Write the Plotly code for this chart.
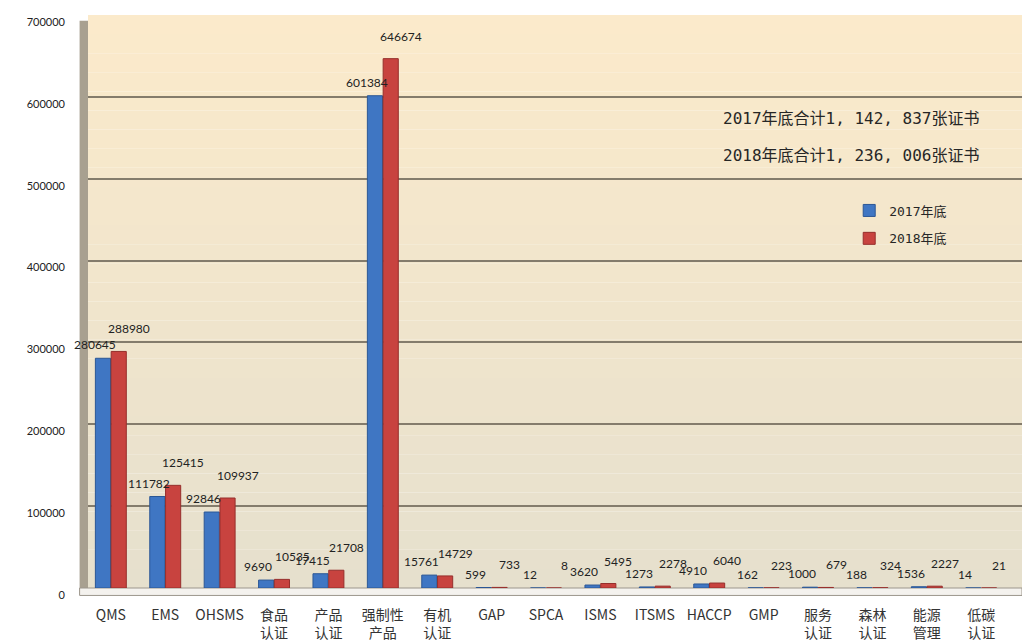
import plotly.graph_objects as go

categories = ["QMS", "EMS", "OHSMS", "食品<br>认证", "产品<br>认证", "强制性<br>产品", "有机<br>认证",
              "GAP", "SPCA", "ISMS", "ITSMS", "HACCP", "GMP", "服务<br>认证", "森林<br>认证",
              "能源<br>管理", "低碳<br>认证"]
values_2017 = [280645, 111782, 92846, 9690, 17415, 601384, 15761, 599, 12, 3620, 1273, 4910,
               162, 1000, 188, 1536, 14]
values_2018 = [288980, 125415, 109937, 10535, 21708, 646674, 14729, 733, 8, 5495, 2278, 6040,
               223, 679, 324, 2227, 21]
series_names = ["2017年底", "2018年底"]
total_notes = ["2017年底合计1, 142, 837张证书", "2018年底合计1, 236, 006张证书"]
y_ticks = [0, 100000, 200000, 300000, 400000, 500000, 600000, 700000]

BLUE = "#3F76C3"
RED = "#C8433F"
LABEL_FONT = dict(family="Lato, 'Noto Sans CJK SC', sans-serif", size=12, color="#222222")
CJK = "'Noto Sans CJK SC', 'Noto Sans', sans-serif"
MONO_CJK = "'DejaVu Sans Mono', 'Noto Sans CJK SC', monospace"

fig = go.Figure()
fig.add_trace(go.Bar(x=categories, y=values_2017, name=series_names[0], legendgroup="a",
                     marker=dict(color=BLUE, line=dict(color="#2B5795", width=1))))
fig.add_trace(go.Bar(x=categories, y=values_2018, name=series_names[1], legendgroup="b",
                     marker=dict(color=RED, line=dict(color="#962F2C", width=1))))

annotations = []
for c, v in zip(categories, values_2017):
    annotations.append(dict(x=c, y=v, xref="x", yref="y", text=str(v), showarrow=False,
                            xanchor="center", yanchor="bottom", xshift=-16, yshift=4,
                            font=LABEL_FONT))
for c, v in zip(categories, values_2018):
    annotations.append(dict(x=c, y=v, xref="x", yref="y", text=str(v), showarrow=False,
                            xanchor="center", yanchor="bottom", xshift=18, yshift=13,
                            font=LABEL_FONT))
for i, note in enumerate(total_notes):
    annotations.append(dict(x=0.678, y=0.82 - i * 0.066, xref="paper", yref="paper", text=note,
                            showarrow=False, xanchor="left", yanchor="middle",
                            font=dict(family=MONO_CJK, size=16, color="#262626")))

# background gradient (peach at top to greyish beige at bottom)
shapes = []
n = 30
top = (251, 234, 203)
bot = (230, 224, 205)
for i in range(n):
    t = i / (n - 1)
    col = tuple(int(round(bot[k] + (top[k] - bot[k]) * t)) for k in range(3))
    shapes.append(dict(type="rect", xref="paper", yref="paper", x0=0, x1=1,
                       y0=i / n, y1=(i + 1) / n, fillcolor="rgb(%d,%d,%d)" % col,
                       line=dict(width=0), layer="below"))
# left wall
shapes.append(dict(type="rect", xref="paper", yref="paper", x0=-0.009, x1=0, y0=-0.012, y1=0.99,
                   fillcolor="#A8A090", line=dict(width=0), layer="below"))
# floor
shapes.append(dict(type="rect", xref="paper", yref="paper", x0=-0.009, x1=1, y0=-0.013, y1=0,
                   fillcolor="#F4F2EE", line=dict(color="#9C968C", width=1), layer="below"))

fig.update_layout(
    width=1022, height=643,
    margin=dict(l=88, r=0, t=15, b=55),
    paper_bgcolor="white",
    plot_bgcolor="rgba(0,0,0,0)",
    barmode="group",
    bargap=0.42,
    bargroupgap=0.04,
    showlegend=True,
    legend=dict(x=0.815, y=0.685, xanchor="left", yanchor="top", bgcolor="rgba(0,0,0,0)",
                font=dict(family=MONO_CJK, size=13, color="#262626"), itemwidth=30,
                tracegroupgap=8),
    annotations=annotations,
    shapes=shapes,
    xaxis=dict(range=[-0.42, 16.75], showgrid=False, showline=False, ticks="",
               tickfont=dict(family=CJK, size=14, color="#333333"), ticklabelstandoff=17,
               tickangle=0),
    yaxis=dict(range=[0, 700000], tickvals=y_ticks, ticktext=[str(t) for t in y_ticks],
               showgrid=True, gridcolor="#847C6C", gridwidth=2, zeroline=False,
               showline=False, ticks="", ticklabelstandoff=22, ticklabelshift=7,
               tickfont=dict(family="Lato, sans-serif", size=11, color="#222222")),
)

fig.write_html("out.html", config={"displayModeBar": False},
               post_script="document.body.style.margin='0';")
